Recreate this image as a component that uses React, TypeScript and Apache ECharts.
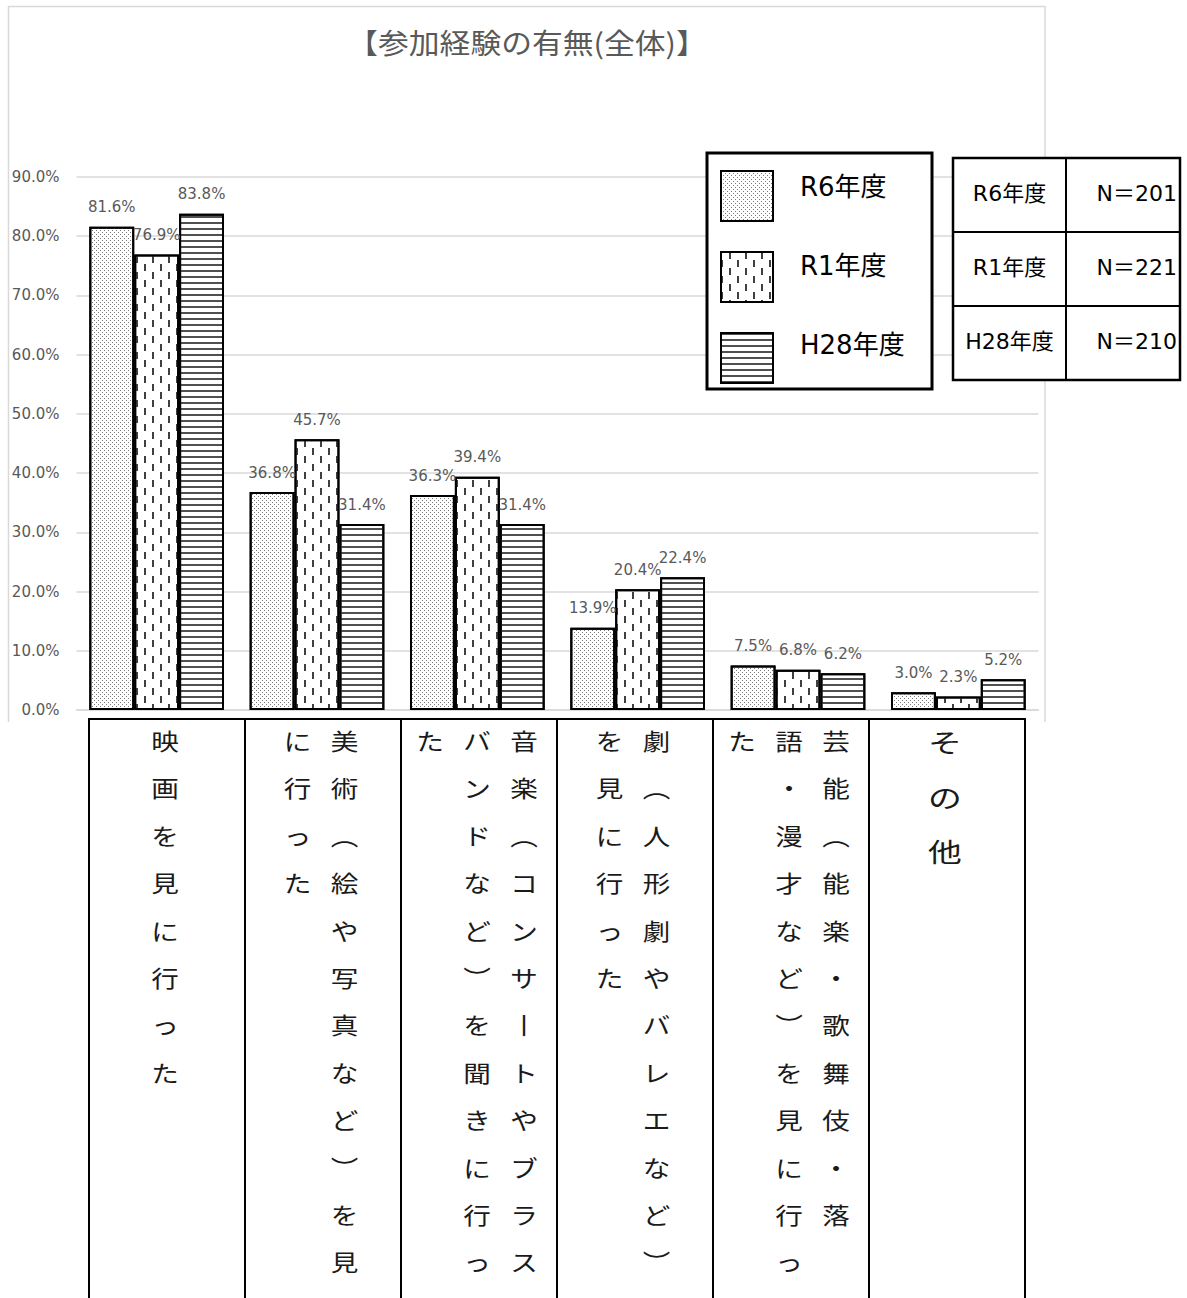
import React, { useEffect, useRef } from "react";
import * as echarts from "echarts";

// ---- data ----
const chartTitle = "【参加経験の有無(全体)】";
const categories = [
  "映画を見に行った",
  "美術（絵や写真など）を見に行った",
  "音楽（コンサートやブラスバンドなど）を聞きに行った",
  "劇（人形劇やバレエなど）を見に行った",
  "芸能（能楽・歌舞伎・落語・漫才など）を見に行った",
  "その他",
];
// vertical label columns, right to left, as laid out in the table under the chart
const labelColumns = [
  ["映画を見に行った"],
  ["美術（絵や写真など）を見", "に行った"],
  ["音楽（コンサートやブラス", "バンドなど）を聞きに行っ", "た"],
  ["劇（人形劇やバレエなど）", "を見に行った"],
  ["芸能（能楽・歌舞伎・落", "語・漫才など）を見に行っ", "た"],
  ["その他"],
];
const seriesNames = ["R6年度", "R1年度", "H28年度"];
const r6Values = [81.6, 36.8, 36.3, 13.9, 7.5, 3.0];
const r1Values = [76.9, 45.7, 39.4, 20.4, 6.8, 2.3];
const h28Values = [83.8, 31.4, 31.4, 22.4, 6.2, 5.2];
const sampleSizes = ["N＝201", "N＝221", "N＝210"];
const yMin = 0;
const yMax = 90;
const yInterval = 10;

// ---- styling ----
const W = 1187;
const H = 1298;
const JP = '"Noto Sans CJK JP", sans-serif';
const NUM = '"DejaVu Sans", "Noto Sans CJK JP", sans-serif';
const GRAY = "#595959";
const GRID = "#d9d9d9";

const decals: any[] = [
  {
    symbol: "rect",
    symbolSize: 1,
    symbolKeepAspect: false,
    color: "#7a7a7a",
    dashArrayX: [
      [1, 3],
      [0, 2, 1, 1],
    ],
    dashArrayY: [1, 1],
  },
  {
    symbol: "rect",
    symbolSize: 1,
    symbolKeepAspect: false,
    color: "#404040",
    dashArrayX: [
      [2, 14],
      [0, 8, 2, 6],
    ],
    dashArrayY: [7, 1],
  },
  {
    symbol: "rect",
    symbolSize: 1,
    symbolKeepAspect: false,
    color: "#505050",
    dashArrayX: [[8, 0]],
    dashArrayY: [2, 4],
  },
];

// legend box geometry
const LG = { x: 707, y: 153, w: 225, h: 236, padL: 13, padT: 17, icon: 52, iconH: 50, gap: 29 };

const verticalForm = (ch: string) =>
  ({ "（": "︵", "）": "︶", "ー": "丨" } as Record<string, string>)[ch] || ch;

function buildGraphics() {
  const els: any[] = [];
  // outer chart frame (left, top, right)
  els.push({
    type: "polyline",
    silent: true,
    z: 0,
    shape: { points: [[8.5, 722], [8.5, 6.5], [1045, 6.5], [1045, 722]] },
    style: { fill: "none", stroke: GRID, lineWidth: 1.5 },
  });
  // title
  els.push({
    type: "text",
    x: 527,
    y: 42,
    scaleX: 1.1,
    style: {
      text: chartTitle,
      fontSize: 28,
      fontFamily: JP,
      fill: GRAY,
      align: "center",
      verticalAlign: "middle",
    },
  });

  // legend frame and names
  els.push({
    type: "rect",
    z: 1,
    shape: { x: LG.x, y: LG.y, width: LG.w, height: LG.h },
    style: { fill: "#fff", stroke: "#000", lineWidth: 3 },
  });
  seriesNames.forEach((name, i) => {
    els.push({
      type: "text",
      z: 12,
      x: 800,
      y: LG.y + LG.padT + i * (LG.iconH + LG.gap) + LG.iconH / 2 - 8,
      style: { text: name, fontSize: 26, fontFamily: NUM, fill: "#000", align: "left", verticalAlign: "middle" },
    });
  });

  // N table
  const tx = 953, ty = 158, tw = 227, rowH = 74, colSplit = 1066;
  els.push({
    type: "rect",
    z: 10,
    shape: { x: tx, y: ty, width: tw, height: rowH * 3 },
    style: { fill: "#fff", stroke: "#000", lineWidth: 2.5 },
  });
  els.push({
    type: "line",
    z: 11,
    shape: { x1: colSplit, y1: ty, x2: colSplit, y2: ty + rowH * 3 },
    style: { stroke: "#000", lineWidth: 2 },
  });
  for (let i = 1; i < 3; i++) {
    els.push({
      type: "line",
      z: 11,
      shape: { x1: tx, y1: ty + rowH * i, x2: tx + tw, y2: ty + rowH * i },
      style: { stroke: "#000", lineWidth: 2 },
    });
  }
  seriesNames.forEach((name, i) => {
    const cy = ty + rowH * i + rowH / 2 - 2;
    els.push({
      type: "text",
      z: 12,
      x: (tx + colSplit) / 2,
      y: cy,
      style: { text: name, fontSize: 22, fontFamily: NUM, fill: "#000", align: "center", verticalAlign: "middle" },
    });
    els.push({
      type: "text",
      z: 12,
      x: tx + tw - 3,
      y: cy,
      style: { text: sampleSizes[i], fontSize: 22, fontFamily: NUM, fill: "#000", align: "right", verticalAlign: "middle" },
    });
  });

  // category table under the chart
  const cLeft = 89, cellW = 156, cTop = 719, cBottom = 1320;
  els.push({
    type: "rect",
    z: 10,
    shape: { x: cLeft, y: cTop, width: cellW * categories.length, height: cBottom - cTop },
    style: { fill: "#fff", stroke: "#000", lineWidth: 2 },
  });
  for (let i = 1; i < categories.length; i++) {
    els.push({
      type: "line",
      z: 11,
      shape: { x1: cLeft + cellW * i, y1: cTop, x2: cLeft + cellW * i, y2: cBottom },
      style: { stroke: "#000", lineWidth: 2 },
    });
  }
  labelColumns.forEach((cols, c) => {
    const center = cLeft + cellW * c + cellW / 2 - 2;
    const n = cols.length;
    const big = c === categories.length - 1;
    const pitch = big ? 54.5 : 47.4;
    cols.forEach((col, j) => {
      const x = center + ((n - 1) / 2 - j) * 47;
      els.push({
        type: "text",
        z: 12,
        x,
        y: big ? 742 - pitch / 2 : 740 - pitch / 2,
        scaleX: big ? 1.3 : 1.2,
        style: {
          text: Array.from(col).map(verticalForm).join("\n"),
          fontSize: big ? 26 : 23,
          lineHeight: pitch,
          fontFamily: JP,
          fill: "#1a1a1a",
          align: "center",
          verticalAlign: "top",
        },
      });
    });
  });
  return els;
}

export default function App() {
  const ref = useRef<HTMLDivElement>(null);
  useEffect(() => {
    document.body.style.margin = "0";
    document.body.style.overflow = "hidden";
    if (!ref.current) return;
    const chart = echarts.init(ref.current, undefined, { renderer: "svg" });
    const valuesList = [r6Values, r1Values, h28Values];
    chart.setOption({
      animation: false,
      backgroundColor: "#fff",
      grid: { left: 76.5, right: W - 1038.5, top: 177, bottom: H - 710, containLabel: false },
      legend: {
        data: seriesNames,
        orient: "vertical",
        left: LG.x + LG.padL,
        top: LG.y + LG.padT,
        icon: "rect",
        itemWidth: LG.icon,
        itemHeight: LG.iconH,
        itemGap: LG.gap,
        padding: 0,
        z: 20,
        selectedMode: false,
        formatter: () => "",
        textStyle: { fontSize: 26, fontFamily: NUM, color: "#000" },
      },
      xAxis: {
        type: "category",
        data: categories,
        axisLabel: { show: false },
        axisTick: { show: false },
        axisLine: { lineStyle: { color: GRID, width: 1.5 } },
      },
      yAxis: {
        type: "value",
        min: yMin,
        max: yMax,
        interval: yInterval,
        axisLabel: {
          formatter: (v: number) => v.toFixed(1) + "%",
          color: GRAY,
          fontSize: 15,
          fontFamily: NUM,
          margin: 17,
        },
        splitLine: { lineStyle: { color: GRID, width: 1.5 } },
        axisLine: { show: false },
        axisTick: { show: false },
      },
      series: seriesNames.map((name, i) => ({
        type: "bar",
        name,
        data: valuesList[i],
        barGap: "0%",
        barCategoryGap: "16%",
        itemStyle: { color: "#fff", borderColor: "#000", borderWidth: 2, decal: decals[i] },
        label: {
          show: true,
          position: "top",
          distance: 12,
          formatter: (p: any) => Number(p.value).toFixed(1) + "%",
          color: GRAY,
          fontSize: 15,
          fontFamily: NUM,
        },
      })),
      graphic: { elements: buildGraphics() },
    });
    return () => chart.dispose();
  }, []);
  return <div ref={ref} style={{ width: W, height: H }} />;
}
